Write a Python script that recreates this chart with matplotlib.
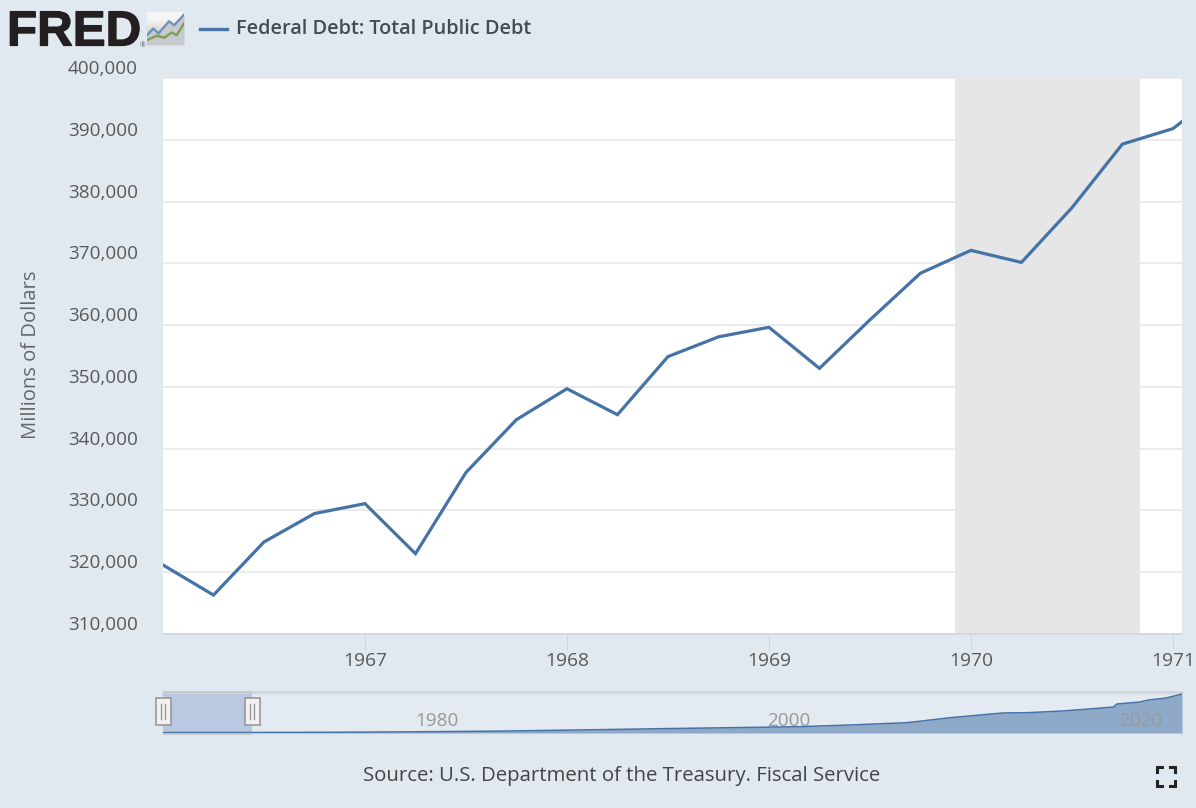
"""FRED screenshot: Federal Debt, 1966-1971 with navigator strip."""
import matplotlib
matplotlib.use('Agg')
import matplotlib.pyplot as plt
import matplotlib.patheffects as pe
from matplotlib.patches import Rectangle

plt.rcParams.update({
    'font.family': ['Open Sans', 'DejaVu Sans'],
    'font.size': 13,
    'axes.linewidth': 0.8,
    'figure.dpi': 100,
})

W, H = 1196, 808
bg = '#e1e9f0'
line_color = '#4572a7'

# Quarterly values, millions of dollars
quarters = [1966.0, 1966.25, 1966.5, 1966.75, 1967.0, 1967.25, 1967.5, 1967.75,
            1968.0, 1968.25, 1968.5, 1968.75, 1969.0, 1969.25, 1969.5, 1969.75,
            1970.0, 1970.25, 1970.5, 1970.75, 1971.0, 1971.25]
debt = [321170, 316300, 324900, 329500, 331100, 323000, 336150, 344700,
        349700, 345500, 354900, 358100, 359650, 353000, 360850, 368400,
        372100, 370150, 379000, 389300, 391800, 398130]
recession = [1969.92, 1970.835]
y_ticks = [310000, 320000, 330000, 340000, 350000, 360000, 370000, 380000, 390000, 400000]
x_ticks = [1967, 1968, 1969, 1970, 1971]

# Navigator series
nav_years = [1966, 1970, 1975, 1980, 1985, 1990, 1995, 2000, 2002, 2005, 2008.2, 2009,
             2010.7, 2011.8, 2013.7, 2015.2, 2017.1, 2019, 2020.0, 2020.2, 2021.5,
             2022, 2023, 2023.9]
nav_debt = [0.32, 0.37, 0.55, 0.91, 1.5, 2.5, 3.6, 4.6, 5.0, 6.4, 8.2, 9.4,
            12.2, 13.6, 16.0, 16.3, 17.6, 19.6, 20.8, 23.2, 24.8, 26.4, 28.0, 31.2]
nav_labels = [1980, 2000, 2020]

# Logo icon lines
blue_x = [0, 18, 33, 63, 78, 106]
blue_y = [30, 50, 35, 72, 60, 92]
green_x = [0, 28, 50, 70, 85, 106]
green_y = [15, 28, 22, 38, 30, 65]


def px_box(x0, y0, x1, y1):
    # pixel box from the top left corner -> figure fractions
    return [x0 / W, 1 - y1 / H, (x1 - x0) / W, (y1 - y0) / H]


fig = plt.figure(figsize=(W / 100, H / 100))
fig.patch.set_facecolor(bg)

# Main chart
ax = fig.add_axes(px_box(163, 78, 1182, 634))
ax.plot(quarters, debt, '-', color=line_color, linewidth=2.3, solid_joinstyle='miter', zorder=3)
ax.axvspan(recession[0], recession[1], color='#e6e6e6', linewidth=0, zorder=1)
ax.set_xlim(1966.0, 1971.045)
ax.set_ylim(310000, 400000)
ax.set_yticks(y_ticks)
ax.set_yticklabels([f'{v:,}' for v in y_ticks], va='bottom', color='#595959', fontsize=13.6)
ax.set_xticks(x_ticks)
ax.set_xticklabels(x_ticks, color='#595959', fontsize=13.8)
ax.tick_params(axis='y', length=0, pad=18)
ax.tick_params(axis='x', length=11.5, width=0.8, color='#ccd6e0', pad=1.5)
ax.grid(True, axis='y', color='#e6e6e6', linewidth=1.1, zorder=0)
for s in ['top', 'right', 'left']:
    ax.spines[s].set_visible(False)
ax.spines['bottom'].set_color('#ccd6e0')
ax.spines['bottom'].set_linewidth(1.2)
ax.set_axisbelow(True)

fig.text(31 / W, 1 - 355 / H, 'Millions of Dollars', rotation=90, ha='center', va='center',
         color='#666666', fontsize=14.6)

# Navigator
nav = fig.add_axes(px_box(163, 692, 1182, 733))
nav.set_facecolor('#e4eaf2')
nav.fill_between(nav_years, nav_debt, 0, color='#8fa9c9', linewidth=0, zorder=2)
nav.plot(nav_years, nav_debt, color=line_color, linewidth=1.1, zorder=3)
nav.axvspan(1966, 1971.05, color='#b9c9e2', linewidth=0, zorder=1)
nav.set_xlim(1966, 2023.9)
nav.set_ylim(0, 32.8)
nav.set_xticks([])
nav.set_yticks([])
for s in ['left', 'right', 'bottom']:
    nav.spines[s].set_visible(False)
nav.spines['top'].set_color('#d2d6da')
nav.spines['top'].set_linewidth(2)
for yr in nav_labels:
    nav.annotate(str(yr), (yr, 0), xytext=(4, 2), textcoords='offset points',
                 color='#999999', fontsize=13.6, ha='left', va='bottom', zorder=4)

# Selected window frame
fig.add_artist(Rectangle((px_box(163, 0, 0, 735)[0], px_box(0, 733, 0, 735)[1]), 89 / W, 2 / H,
                         transform=fig.transFigure, facecolor='#c8c8c8', linewidth=0))
fig.add_artist(Rectangle((px_box(163, 0, 0, 693)[0], px_box(0, 691, 0, 693)[1]), 89 / W, 2 / H,
                         transform=fig.transFigure, facecolor='#c8c8c8', linewidth=0))

# Navigator handles
for x_mid in [163, 252]:
    fig.add_artist(Rectangle((px_box(x_mid - 7.5, 0, 0, 725)[0], px_box(0, 698, 0, 725)[1]),
                             15 / W, 27 / H, transform=fig.transFigure,
                             facecolor='#f2f2f2', edgecolor='#999999', linewidth=1.2))
    for dx in [-2, 2]:
        fig.add_artist(plt.Line2D([(x_mid + dx) / W] * 2, [1 - 704 / H, 1 - 719 / H],
                                  color='#999999', linewidth=1))

# Header
fig.text(7 / W, 1 - 45.5 / H, 'FRED', family='Liberation Sans', weight='bold', fontsize=35.5,
         color='#231f20', ha='left', va='baseline',
         path_effects=[pe.withStroke(linewidth=0.9, foreground='#231f20')])
fig.text(143 / W, 1 - 47 / H, '®', fontsize=5, color='#555555', ha='center', va='baseline')

icon = fig.add_axes(px_box(147, 12, 184, 45))
icon.imshow([[0.96], [0.78]], extent=[0, 106, 0, 100], aspect='auto', cmap='gray', vmin=0, vmax=1,
            interpolation='bilinear')
icon.fill_between(blue_x, blue_y, 0, color='#c6cacf', linewidth=0)
icon.plot(blue_x, blue_y, color='#6f93b8', linewidth=1.7)
icon.plot(green_x, green_y, color='#7f9f50', linewidth=1.7)
icon.set_xlim(0, 106)
icon.set_ylim(0, 100)
icon.set_xticks([])
icon.set_yticks([])
for s in icon.spines.values():
    s.set_visible(False)

fig.add_artist(plt.Line2D([200 / W, 227 / W], [1 - 28.5 / H] * 2, color=line_color, linewidth=2.4))
fig.text(236 / W, 1 - 28.5 / H, 'Federal Debt: Total Public Debt', fontsize=14.3, weight=600,
         color='#444b54', ha='left', va='center')

# Footer
fig.text(621.5 / W, 1 - 776.5 / H, 'Source: U.S. Department of the Treasury. Fiscal Service',
         fontsize=14.7, color='#444444', ha='center', va='center')

# Fullscreen icon
for cx, cy, sx, sy in [(1157, 767, 1, 1), (1175, 767, -1, 1), (1157, 786, 1, -1), (1175, 786, -1, -1)]:
    fig.add_artist(plt.Line2D([(cx + 5 * sx) / W, cx / W, cx / W],
                              [1 - cy / H, 1 - cy / H, 1 - (cy + 5 * sy) / H],
                              color='#222222', linewidth=2.2, solid_joinstyle='miter'))

plt.savefig('out.png', dpi=100, facecolor=fig.get_facecolor())
print("Done: out.png")
